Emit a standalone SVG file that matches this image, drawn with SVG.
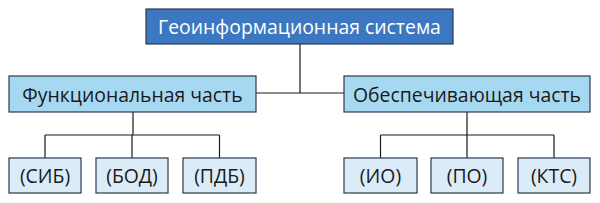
<svg xmlns="http://www.w3.org/2000/svg" width="600" height="203" viewBox="0 0 600 203">
<style>
.box{stroke:#2b3b4b;stroke-width:1.2}
.top{fill:#3b78c1}
.mid{fill:#a6d9f1}
.leaf{fill:#dbecf8}
text{font-family:"Open Sans","Noto Sans",sans-serif;font-size:19.4px;text-anchor:middle;dominant-baseline:central;fill:#1a1a1a}
.wt{fill:#ffffff}
.c{fill:none;stroke:#1a1a1a;stroke-width:1.2}
</style>
<rect width="600" height="203" fill="#ffffff"/>
<g id="connectors">
<path class="c" d="M300 44V93M256 93H344"/>
<path class="c" d="M133 112V135M45 135H219.5M45 135V158M132 135V158M219.5 135V158"/>
<path class="c" d="M467 112V135M380.5 135H554M380.5 135V158M467 135V158M554 135V158"/>
</g>
<g id="gis"><rect class="box top" x="146" y="9" width="307" height="35"/><text class="wt" x="299.5" y="26.5">Геоинформационная система</text></g>
<g id="func"><rect class="box mid" x="9" y="76" width="247" height="36"/><text x="132.5" y="94">Функциональная часть</text></g>
<g id="obesp"><rect class="box mid" x="344" y="76" width="246" height="36"/><text x="467" y="94">Обеспечивающая часть</text></g>
<g id="sib"><rect class="box leaf" x="9" y="158" width="72" height="35"/><text x="45" y="175.5">(СИБ)</text></g>
<g id="bod"><rect class="box leaf" x="96" y="158" width="72" height="35"/><text x="132" y="175.5">(БОД)</text></g>
<g id="pdb"><rect class="box leaf" x="183" y="158" width="73" height="35"/><text x="219.5" y="175.5">(ПДБ)</text></g>
<g id="io"><rect class="box leaf" x="344" y="158" width="73" height="35"/><text x="380.5" y="175.5">(ИО)</text></g>
<g id="po"><rect class="box leaf" x="431" y="158" width="72" height="35"/><text x="467" y="175.5">(ПО)</text></g>
<g id="kts"><rect class="box leaf" x="518" y="158" width="72" height="35"/><text x="554" y="175.5">(КТС)</text></g>
</svg>
